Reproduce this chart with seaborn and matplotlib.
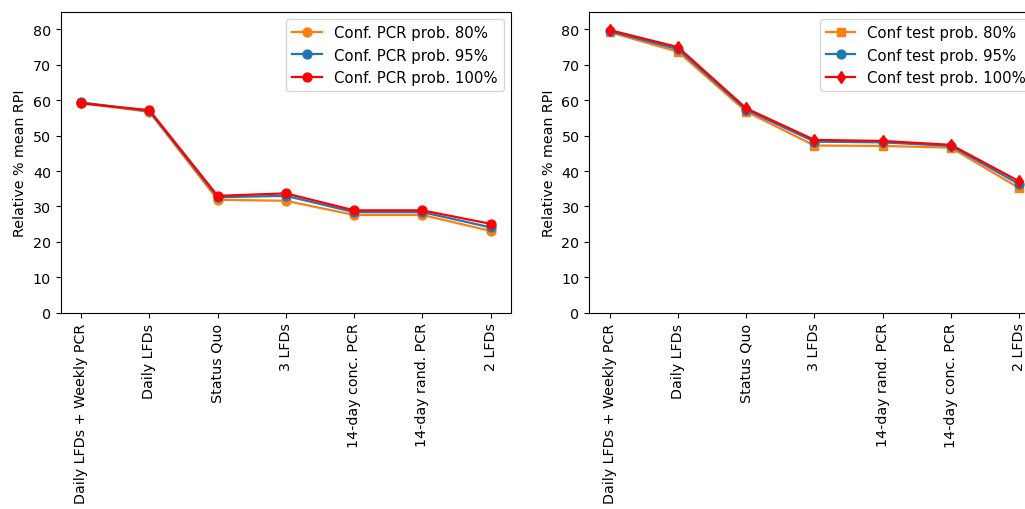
import matplotlib
matplotlib.use("Agg")
import matplotlib.pyplot as plt
import seaborn as sns
import pandas as pd

# Strategies ordered by RPI for each comparison
pcr_strategies = ["Daily LFDs + Weekly PCR", "Daily LFDs", "Status Quo", "3 LFDs",
                  "14-day conc. PCR", "14-day rand. PCR", "2 LFDs"]
test_strategies = ["Daily LFDs + Weekly PCR", "Daily LFDs", "Status Quo", "3 LFDs",
                   "14-day rand. PCR", "14-day conc. PCR", "2 LFDs"]

# Relative % mean RPI, confirmatory PCR probability
pcr_80 = [59.2, 56.7, 31.9, 31.6, 27.6, 27.6, 23.1]
pcr_95 = [59.4, 56.9, 32.6, 33.0, 28.4, 28.4, 24.1]
pcr_100 = [59.1, 57.2, 33.0, 33.7, 28.9, 28.9, 25.1]

# Relative % mean RPI, confirmatory test probability
test_80 = [79.2, 73.7, 56.8, 47.2, 47.1, 46.6, 35.2]
test_95 = [79.5, 74.4, 57.3, 48.3, 48.1, 47.1, 36.3]
test_100 = [79.8, 75.0, 57.7, 48.8, 48.5, 47.4, 37.1]

pcr_labels = ["Conf. PCR prob. 80%", "Conf. PCR prob. 95%", "Conf. PCR prob. 100%"]
test_labels = ["Conf test prob. 80%", "Conf test prob. 95%", "Conf test prob. 100%"]

colors = ["tab:orange", "tab:blue", "red"]

fig = plt.figure(figsize=(10.25, 5.10), dpi=100)
W, H = 1025, 510
ax1 = fig.add_axes([60.7 / W, (H - 313.7) / H, 450.3 / W, 301.0 / H])
ax2 = fig.add_axes([589.3 / W, (H - 313.7) / H, 450.3 / W, 301.0 / H])


def draw(ax, strategies, series, labels, markers):
    for vals, lab, col, mk in zip(series, labels, colors, markers):
        df = pd.DataFrame({"strategy": strategies, "rpi": vals})
        sns.lineplot(data=df, x="strategy", y="rpi", ax=ax, sort=False,
                     color=col, marker=mk, markersize=6.4, linewidth=1.6,
                     markeredgecolor=col, markeredgewidth=1, label=lab)
    ax.set_ylim(0, 85)
    ax.set_xlabel("")
    ax.set_ylabel("Relative % mean RPI", fontsize=10.3)
    ax.tick_params(axis="x", labelrotation=90, labelsize=10.3)
    ax.tick_params(axis="y", labelsize=10.3)
    ax.legend(loc="upper right", fontsize=10.7)


draw(ax1, pcr_strategies, [pcr_80, pcr_95, pcr_100], pcr_labels, ["o", "o", "o"])
draw(ax2, test_strategies, [test_80, test_95, test_100], test_labels, ["s", "o", "d"])

fig.savefig("out.png", dpi=100)
